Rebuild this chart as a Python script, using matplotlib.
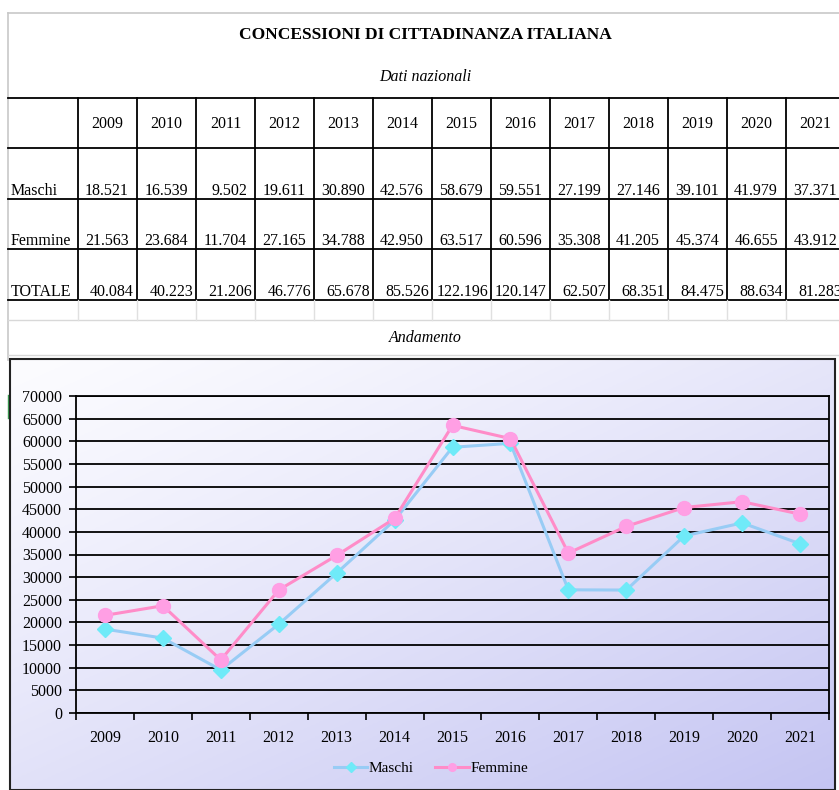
import matplotlib
matplotlib.use("Agg")
import matplotlib.pyplot as plt
import numpy as np
from matplotlib.patches import Rectangle

plt.rcParams['font.family'] = ['Liberation Serif', 'DejaVu Serif']

# ---------------- data ----------------
title = "CONCESSIONI DI CITTADINANZA ITALIANA"
subtitle = "Dati nazionali"
chart_title = "Andamento"
years = [2009, 2010, 2011, 2012, 2013, 2014, 2015, 2016, 2017, 2018, 2019, 2020, 2021]
maschi = [18521, 16539, 9502, 19611, 30890, 42576, 58679, 59551, 27199, 27146, 39101, 41979, 37371]
femmine = [21563, 23684, 11704, 27165, 34788, 42950, 63517, 60596, 35308, 41205, 45374, 46655, 43912]
totale = [m + f for m, f in zip(maschi, femmine)]
row_labels = ["Maschi", "Femmine", "TOTALE"]
y_ticks = list(range(0, 70001, 5000))

def fmt(v):
    return f"{v:,}".replace(",", ".")

W, H = 839, 790
fig = plt.figure(figsize=(W / 100, H / 100), dpi=100)
fig.patch.set_facecolor("white")

# ---------------- sheet / table layer (pixel coordinates) ----------------
sheet = fig.add_axes([0, 0, 1, 1])
sheet.set_xlim(0, W)
sheet.set_ylim(H, 0)
sheet.axis("off")

# sheet border
sheet.plot([8, W], [13, 13], color="#c8c8c8", lw=1.2)
sheet.plot([8, 8], [13, 360], color="#c8c8c8", lw=1.2)
sheet.plot([8, 8], [395, 418], color="#3a9a50", lw=1.0)

sheet.text(425, 35, title, ha="center", va="center", fontsize=12.5, fontweight="bold")
sheet.text(425, 77, subtitle, ha="center", va="center", fontsize=11.5, style="italic")

col_x = [8, 78] + [78 + 59 * (i + 1) for i in range(len(years))]
row_y = [98, 148, 199, 249, 300]
for yy in row_y:
    sheet.plot([8, W], [yy, yy], color="black", lw=1.3)
for xx in col_x[1:]:
    sheet.plot([xx, xx], [98, 300], color="black", lw=1.3)
sheet.plot([8, W], [320, 320], color="#d8d8d8", lw=1.0)
for xx in col_x[1:]:
    sheet.plot([xx, xx], [300, 320], color="#e0e0e0", lw=1.0)
sheet.plot([8, W], [355, 355], color="#d8d8d8", lw=1.0)

FS = 11.5
for i, yv in enumerate(years):
    cx = (col_x[i + 1] + col_x[i + 2]) / 2
    sheet.text(cx, 124, str(yv), ha="center", va="center", fontsize=FS)
pads = [8, 8, 3]
for r, (lab, vals) in enumerate(zip(row_labels, [maschi, femmine, totale])):
    ybase = row_y[r + 2] - 4
    sheet.text(11, ybase, lab, ha="left", va="baseline", fontsize=FS)
    for i, v in enumerate(vals):
        sheet.text(col_x[i + 2] - pads[r], ybase, fmt(v), ha="right", va="baseline", fontsize=FS)

sheet.text(425, 338, chart_title, ha="center", va="center", fontsize=11.5, style="italic")

# ---------------- chart background with gradient ----------------
bx0, bx1, by0 = 10, 835, 359
bg = fig.add_axes([bx0 / W, 0, (bx1 - bx0) / W, (H - by0) / H])
bg.axis("off")
gx, gy = np.meshgrid(np.linspace(0, 1, 200), np.linspace(0, 1, 200))
t = np.clip((gx * 0.6 + gy * 0.7) / 1.3, 0, 1) ** 1.2
c0 = np.array([252, 252, 255]) / 255
c1 = np.array([196, 196, 242]) / 255
img = c0[None, None, :] * (1 - t[..., None]) + c1[None, None, :] * t[..., None]
bg.imshow(img, aspect="auto", extent=[0, 1, 0, 1], origin="upper")
bg.set_xlim(0, 1)
bg.set_ylim(0, 1)
bg.add_patch(Rectangle((0, 0), 1, 1, fill=False, edgecolor="#222222", lw=1.5,
                       transform=bg.transAxes, clip_on=False))

# ---------------- line chart ----------------
px0, px1, py0, py1 = 76, 829, 396, 713
ax = fig.add_axes([px0 / W, (H - py1) / H, (px1 - px0) / W, (py1 - py0) / H])
ax.patch.set_alpha(0)
x = np.arange(len(years))
ax.set_xlim(-0.5, len(years) - 0.5)
ax.set_ylim(0, 70000)
ax.set_yticks(y_ticks)
ax.set_yticklabels([str(v) for v in y_ticks], fontsize=11.5)
ax.yaxis.grid(True, color="black", lw=1.3)
ax.set_axisbelow(True)
ax.tick_params(axis="y", length=5, width=1.2, pad=5, direction="out")

ax.set_xticks(np.arange(-0.5, len(years), 1.0))
ax.set_xticklabels([])
ax.set_xticks(x, minor=True)
ax.set_xticklabels([str(v) for v in years], minor=True, fontsize=11.5)
ax.tick_params(axis="x", which="major", length=5, width=1.2, direction="out")
ax.tick_params(axis="x", which="minor", length=0, pad=12)

for s in ax.spines.values():
    s.set_color("black")
    s.set_linewidth(1.3)

ax.plot(x, maschi, color="#98ccf5", lw=2.2, marker="D", markersize=8.5,
        markerfacecolor="#6feaf8", markeredgecolor="#6feaf8", label="Maschi", zorder=3)
ax.plot(x, femmine, color="#ff8cc8", lw=2.2, marker="o", markersize=10,
        markerfacecolor="#ff9fe4", markeredgecolor="#ff9fe4", label="Femmine", zorder=4)

leg = fig.legend(loc="center", bbox_to_anchor=(431 / W, (H - 768) / H), ncol=2,
                 frameon=False, fontsize=11, handlelength=2.2, columnspacing=1.4,
                 handletextpad=0.1, markerscale=0.55)

fig.savefig("out.png", dpi=100)
